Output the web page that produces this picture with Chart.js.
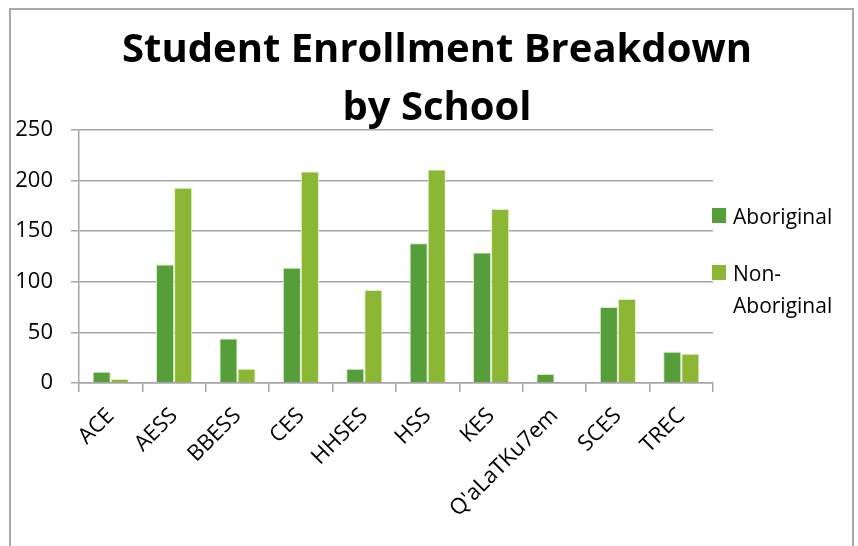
<!DOCTYPE html>
<html lang="en">
<head>
  <meta charset="UTF-8">
  <title>Student Enrollment Breakdown by School</title>
  <script src="https://cdn.jsdelivr.net/npm/chart.js"></script>
  <style>
    body { margin: 0; background: #fff; font-family: "Open Sans", sans-serif; }
    #wrap { position: relative; width: 858px; height: 546px; overflow: hidden; }
    #frame {
      position: absolute; left: 9px; top: 8px; width: 841px; height: 600px;
      border: 2px solid #a9a9a9;
    }
    canvas { position: absolute; left: 0; top: 0; }
    #title {
      position: absolute; left: 0; width: 874px; top: 18px;
      text-align: center; font: bold 40px "Open Sans", sans-serif; line-height: 58px; color: #000;
    }
    .leg { position: absolute; left: 712px; font: 21px "Open Sans", sans-serif; color: #000; line-height: 32px; }
    .leg i { position: absolute; left: 0; top: 8px; width: 14px; height: 15px; }
    .leg span { display: block; margin-left: 21px; }
  </style>
</head>
<body>
<div id="wrap">
  <div id="frame"></div>
  <canvas id="c" width="858" height="546"></canvas>
  <div id="title">Student Enrollment Breakdown<br>by School</div>
  <div class="leg" style="top:200px"><i style="background:#559e3a"></i><span>Aboriginal</span></div>
  <div class="leg" style="top:257px"><i style="background:#8bb734"></i><span>Non-<br>Aboriginal</span></div>
</div>
<script>
  const schools = ['ACE','AESS','BBESS','CES','HHSES','HSS','KES',"Q'aLaTKu7em",'SCES','TREC'];
  const aboriginal = [11, 117, 44, 114, 14, 138, 129, 9, 75, 31];
  const nonAboriginal = [4, 193, 14, 209, 92, 211, 172, 0, 83, 29];
  const yTicks = [0, 50, 100, 150, 200, 250];

  const gridColor = '#a6a6a6';
  new Chart(document.getElementById('c'), {
    type: 'bar',
    data: {
      labels: schools,
      datasets: [
        { label: 'Aboriginal', data: aboriginal, backgroundColor: '#559e3a', borderColor: '#d8e8cc', borderWidth: 1 },
        { label: 'Non-Aboriginal', data: nonAboriginal, backgroundColor: '#8bb734', borderColor: '#e2eecb', borderWidth: 1 }
      ]
    },
    options: {
      responsive: false,
      animation: false,
      layout: { padding: { left: 10, right: 145, top: 130, bottom: 0 } },
      datasets: { bar: { categoryPercentage: 0.57, barPercentage: 1 } },
      plugins: { legend: { display: false }, title: { display: false }, tooltip: { enabled: false } },
      scales: {
        x: {
          grid: { offset: true, drawOnChartArea: false, color: gridColor, lineWidth: 1.5, tickLength: 9 },
          border: { color: gridColor, width: 1.5 },
          ticks: { color: '#000', font: { family: 'Open Sans', size: 22 }, minRotation: 45, maxRotation: 45, padding: 11 },
          afterFit: s => { s.height = 163; }
        },
        y: {
          min: yTicks[0], max: yTicks[yTicks.length - 1],
          afterBuildTicks: s => { s.ticks = yTicks.map(v => ({ value: v })); },
          grid: { color: gridColor, lineWidth: 1.5, tickLength: 8 },
          border: { color: gridColor, width: 1.5 },
          ticks: { color: '#000', font: { family: 'Open Sans', size: 22 }, padding: 18 },
          afterFit: s => { s.width = 69; }
        }
      }
    }
  });
</script>
</body>
</html>
